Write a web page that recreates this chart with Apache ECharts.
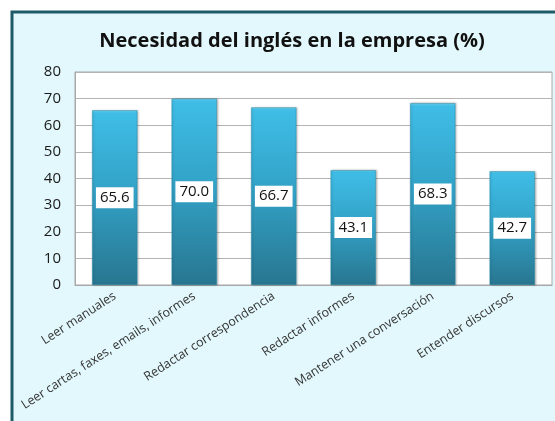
<!DOCTYPE html>
<html>
<head>
<meta charset="utf-8">
<script src="https://cdn.jsdelivr.net/npm/echarts@6/dist/echarts.min.js"></script>
<style>
  html, body { margin: 0; padding: 0; background: #ffffff; }
  #chart { width: 555px; height: 421px; }
</style>
</head>
<body>
<div id="chart"></div>
<script>
const categories = [
  'Leer manuales',
  'Leer cartas, faxes, emails, informes',
  'Redactar correspondencia',
  'Redactar informes',
  'Mantener una conversación',
  'Entender discursos'
];
const values = [65.6, 70.0, 66.7, 43.1, 68.3, 42.7];
const yTicks = [0, 10, 20, 30, 40, 50, 60, 70, 80];

const chart = echarts.init(document.getElementById('chart'));

chart.setOption({
  backgroundColor: '#ffffff',
  animation: false,
  graphic: [{
    type: 'rect',
    z: -10,
    shape: { x: 12, y: 12, width: 560, height: 420 },
    style: { fill: '#e3f8fc', stroke: '#1e5b69', lineWidth: 3 }
  }],
  title: {
    text: 'Necesidad del inglés en la empresa (%)',
    left: 287,
    textAlign: 'center',
    top: 26,
    textStyle: { fontFamily: 'Open Sans', fontWeight: 'bold', fontSize: 20, color: '#111' }
  },
  grid: {
    left: 75, right: 3, top: 72, bottom: 136,
    show: true, backgroundColor: '#ffffff', borderColor: '#a8a8a8', borderWidth: 1
  },
  xAxis: {
    type: 'category',
    data: categories,
    axisLine: { lineStyle: { color: '#a8a8a8' } },
    axisTick: { show: false },
    axisLabel: {
      rotate: 33, interval: 0, margin: 10,
      fontFamily: 'Open Sans', fontSize: 12.5, color: '#333'
    }
  },
  yAxis: {
    type: 'value',
    min: yTicks[0], max: yTicks[yTicks.length - 1], interval: 10,
    axisLine: { show: true, lineStyle: { color: '#a8a8a8' } },
    splitLine: { lineStyle: { color: '#b4b4b4' } },
    axisLabel: { fontFamily: 'Open Sans', fontSize: 15, color: '#1a1a1a', margin: 14 }
  },
  series: [{
    type: 'bar',
    data: values,
    barWidth: '57%',
    itemStyle: {
      color: new echarts.graphic.LinearGradient(0, 0, 0, 1, [
        { offset: 0, color: '#6fd3f0' },
        { offset: 0.015, color: '#3fbde6' },
        { offset: 0.45, color: '#33a3c8' },
        { offset: 1, color: '#287690' }
      ]),
      borderColor: '#2b8aa8',
      borderWidth: 0.5,
      shadowColor: 'rgba(0,0,0,0.25)',
      shadowBlur: 2,
      shadowOffsetX: 1
    },
    label: {
      show: true,
      position: 'inside',
      formatter: p => p.value.toFixed(1),
      fontFamily: 'Open Sans',
      fontSize: 15,
      color: '#111',
      backgroundColor: '#ffffff',
      padding: [3, 4, 3, 4]
    }
  }]
});
</script>
</body>
</html>
